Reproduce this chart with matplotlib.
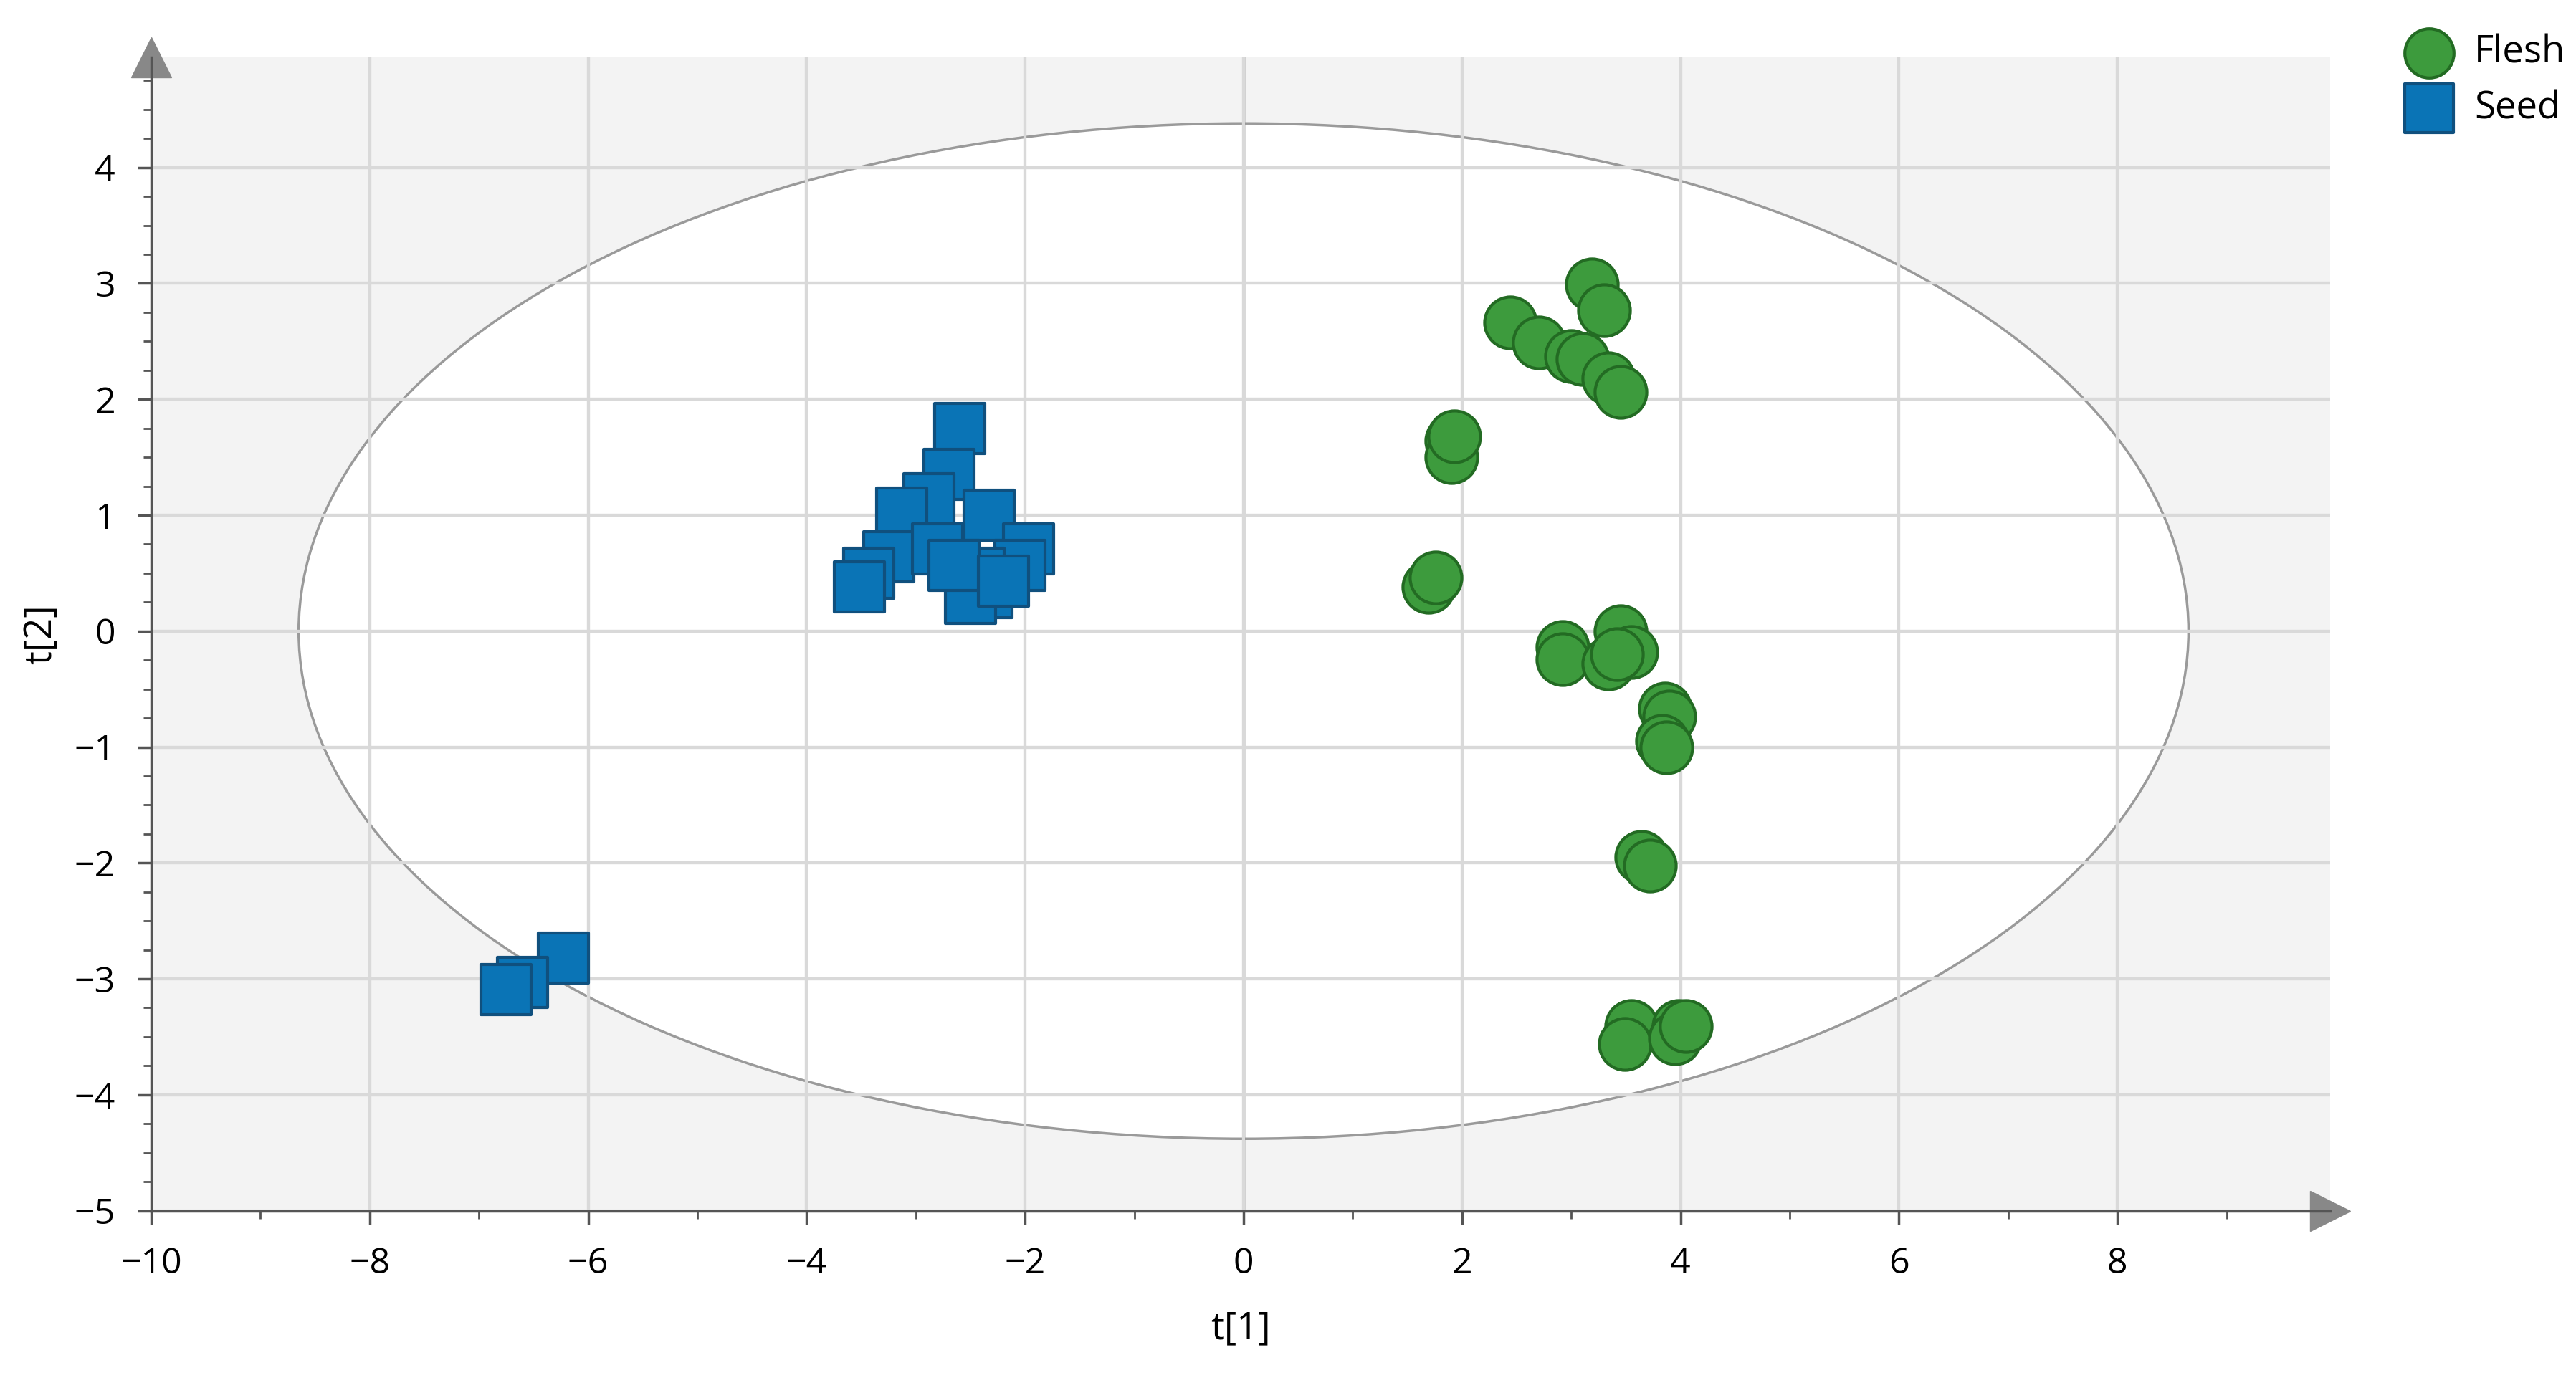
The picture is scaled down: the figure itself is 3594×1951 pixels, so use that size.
import matplotlib
matplotlib.use("Agg")
import matplotlib.pyplot as plt
from matplotlib.patches import Ellipse
import numpy as np

plt.rcParams['font.family'] = ['Open Sans', 'DejaVu Sans']

flesh_x = [3.19, 3.30, 2.44, 2.70, 3.00, 3.10, 3.34, 3.45, 1.90, 1.90, 1.93, 1.69, 1.76,
           2.92, 2.92, 3.45, 3.55, 3.34, 3.42, 3.86, 3.90, 3.83, 3.87, 3.64, 3.72,
           3.55, 3.49, 3.98, 3.95, 4.05]
flesh_y = [2.99, 2.77, 2.66, 2.49, 2.37, 2.35, 2.18, 2.06, 1.64, 1.50, 1.68, 0.38, 0.46,
           -0.14, -0.24, 0.00, -0.18, -0.28, -0.20, -0.67, -0.74, -0.95, -1.00, -1.95, -2.02,
           -3.41, -3.56, -3.41, -3.51, -3.41]
seed_x = [-2.60, -2.70, -2.88, -3.13, -2.33, -1.97, -2.05, -3.25, -3.43, -3.52, -2.42,
          -2.35, -2.50, -2.80, -2.65, -2.20, -6.23, -6.60, -6.75]
seed_y = [1.75, 1.35, 1.14, 1.02, 1.00, 0.71, 0.57, 0.64, 0.50, 0.38, 0.50,
          0.33, 0.28, 0.71, 0.57, 0.43, -2.82, -3.03, -3.09]
ell_a, ell_b = 8.65, 4.38

fig = plt.figure(figsize=(35.94, 19.51), dpi=100)
ax = fig.add_axes([0.0587, 0.134, 0.846, 0.825])
ax.set_facecolor('#f3f3f3')
ax.set_xlim(-10, 9.95)
ax.set_ylim(-5, 4.95)
ax.set_xticks(np.arange(-10, 9, 2))
ax.set_yticks(np.arange(-5, 5, 1))
ax.set_yticks(np.arange(-5, 4.9, 0.25), minor=True)
ax.set_xticks(np.arange(-10, 9.9, 1), minor=True)
ax.grid(True, which='major', color='#d9d9d9', lw=3, zorder=0)
ax.add_patch(Ellipse((0, 0), 2*ell_a, 2*ell_b, facecolor='white', edgecolor='#9a9a9a', lw=2.5, zorder=0.5))
for gx in np.arange(-8, 9, 2):
    ax.axvline(gx, color='#d9d9d9', lw=3, zorder=0.6)
for gy in np.arange(-4, 5, 1):
    ax.axhline(gy, color='#d9d9d9', lw=3, zorder=0.6)
ax.axhline(0, color='#707070', lw=2.5, zorder=0.7)
ax.axvline(0, color='#707070', lw=2.5, zorder=0.7)

ax.scatter(flesh_x, flesh_y, s=2700, marker='o', c='#3d9b3d', edgecolors='#236b23', linewidths=3, zorder=3, label='Flesh')
ax.scatter(seed_x, seed_y, s=2600, marker='s', c='#0a74b6', edgecolors='#10507e', linewidths=3, zorder=3, label='Seed')

for s in ['top', 'right']:
    ax.spines[s].set_visible(False)
for s in ['left', 'bottom']:
    ax.spines[s].set_color('#555555')
    ax.spines[s].set_linewidth(2.5)
ax.plot(1, 0, '>', transform=ax.transAxes, color='#888888', ms=40, clip_on=False)
ax.plot(0, 1, '^', transform=ax.transAxes, color='#888888', ms=40, clip_on=False)

ax.tick_params(which='major', labelsize=36, length=14, width=2.5, color='#555555', direction='out', pad=22)
ax.tick_params(which='minor', length=8, width=2, color='#555555')
ax.set_xlabel('t[1]', fontsize=38, labelpad=28)
ax.set_ylabel('t[2]', fontsize=38, labelpad=14)

leg = fig.legend(loc='upper left', bbox_to_anchor=(0.915, 1.0), fontsize=38, frameon=False,
                 handletextpad=0.2, labelspacing=0.45, markerscale=0.95)

fig.savefig('out.png', dpi=100, facecolor='white')
